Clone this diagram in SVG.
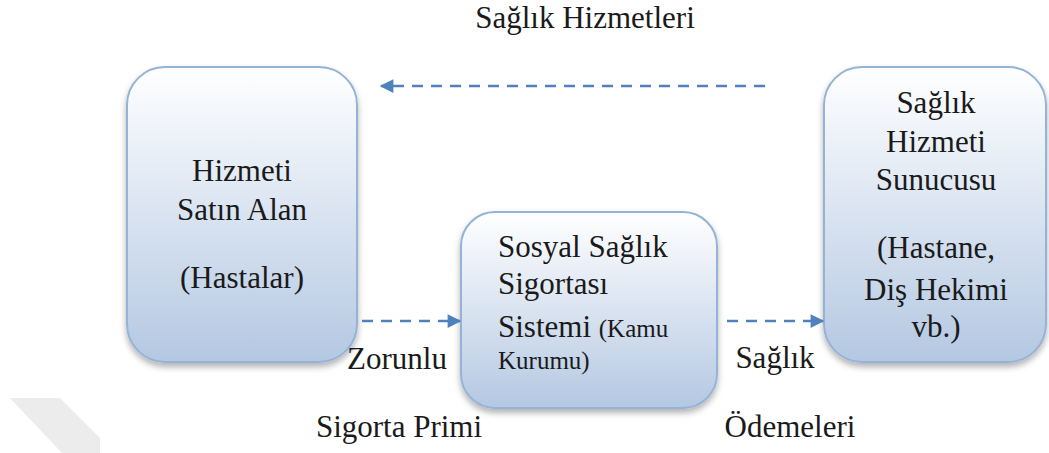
<svg xmlns="http://www.w3.org/2000/svg" width="1049" height="453" viewBox="0 0 1049 453">
<defs>
<linearGradient id="g" x1="0" y1="0" x2="0" y2="1">
<stop offset="0" stop-color="#ffffff"/>
<stop offset="1" stop-color="#b4c8e2"/>
</linearGradient>
<filter id="sh" x="-10%" y="-10%" width="120%" height="125%">
<feDropShadow dx="0" dy="4" stdDeviation="3" flood-color="#000" flood-opacity="0.3"/>
</filter>
<marker id="ah" viewBox="0 0 10 10" refX="9" refY="5" markerWidth="6" markerHeight="5.5" orient="auto">
<path d="M0,0 L10,5 L0,10 z" fill="#4f81bd"/>
</marker>
<style>
.box{fill:url(#g);stroke:#95b3d7;stroke-width:2;filter:url(#sh)}
.c{text-anchor:middle}
.con{stroke:#4f81bd;stroke-width:2.5;stroke-dasharray:11 8;fill:none;marker-end:url(#ah)}
</style>
</defs>
<rect width="1049" height="453" fill="#fff"/>
<polygon points="10,398 60,398 100,438 100,453 62,453" fill="#ececec"/>
<g font-family="Liberation Serif, Times New Roman, serif" font-size="31" fill="#1a1a1a">
<g id="n1">
<rect class="box" x="127" y="67" width="230" height="295" rx="38"/>
<text class="c" x="242" y="181">Hizmeti</text>
<text class="c" x="242" y="220">Satın Alan</text>
<text class="c" x="242" y="288">(Hastalar)</text>
</g>
<g id="n2">
<rect class="box" x="461" y="212" width="256" height="196" rx="34"/>
<text x="498" y="257">Sosyal Sağlık</text>
<text x="498" y="294">Sigortası</text>
<text x="498" y="337">Sistemi <tspan font-size="25">(Kamu</tspan></text>
<text x="498" y="369" font-size="25">Kurumu)</text>
</g>
<g id="n3">
<rect class="box" x="824" y="67" width="222" height="295" rx="38"/>
<text class="c" x="936" y="113">Sağlık</text>
<text class="c" x="936" y="152">Hizmeti</text>
<text class="c" x="936" y="190">Sunucusu</text>
<text class="c" x="936" y="258">(Hastane,</text>
<text class="c" x="936" y="300">Diş Hekimi</text>
<text class="c" x="936" y="337">vb.)</text>
</g>
<g id="connectors">
<line class="con" x1="765" y1="86" x2="381" y2="86"/>
<line class="con" x1="362" y1="321" x2="460" y2="321"/>
<line class="con" x1="727" y1="321" x2="823" y2="321"/>
</g>
<g id="labels">
<text class="c" x="585" y="28">Sağlık Hizmetleri</text>
<text class="c" x="397" y="369">Zorunlu</text>
<text class="c" x="399" y="437">Sigorta Primi</text>
<text class="c" x="775" y="368">Sağlık</text>
<text class="c" x="790" y="437">Ödemeleri</text>
</g>
</g>
</svg>
